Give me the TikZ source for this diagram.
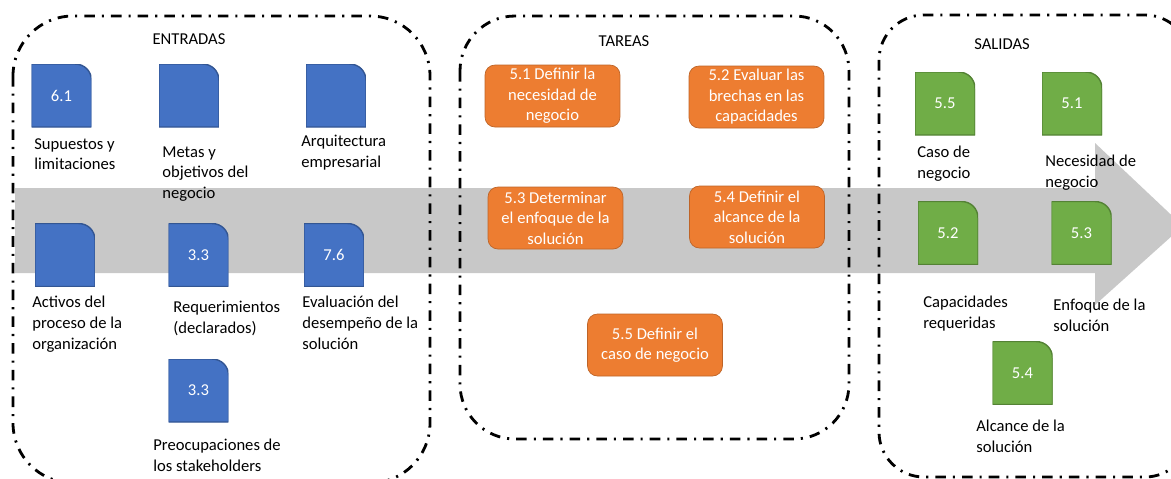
\documentclass[tikz,border=0pt]{standalone}
\usepackage{fontspec}
\setmainfont{Carlito}
\definecolor{docblue}{HTML}{4472C4}
\definecolor{docgreen}{HTML}{70AD47}
\definecolor{taskorange}{HTML}{ED7D31}
\definecolor{bandgray}{RGB}{200,200,200}

\tikzstyle{doc}=[minimum width=1.2cm,minimum height=1.26cm,inner sep=0,text=white,
  path picture={\filldraw[fill=#1,draw=#1!75!black,line width=0.8pt]
    (path picture bounding box.south west) |- ([xshift=-9.5pt]path picture bounding box.north east)
    .. controls ([xshift=-4pt]path picture bounding box.north east) and ([yshift=-4pt]path picture bounding box.north east) .. ([yshift=-9.5pt]path picture bounding box.north east)
    -- (path picture bounding box.south east) -- cycle;}]
\tikzstyle{task}=[rounded corners=0.2cm,fill=taskorange,draw=taskorange!80!black,text=white,
  minimum width=2.7cm,minimum height=1.24cm,align=center,inner sep=0]
\tikzstyle{captxt}=[anchor=north west,align=left,inner sep=0]
\tikzstyle{title}=[anchor=north,inner sep=0]
\tikzstyle{group}=[draw,line width=1.6pt,dash pattern=on 6pt off 4pt on 1.2pt off 4pt,rounded corners=#1]
\newcommand{\docitem}[4]{\node[doc=#3] (#1) at (#2) {#4};}
\newcommand{\doctext}[3]{\node[captxt] (#1) at (#2) {#3};}

\begin{document}
\begin{tikzpicture}[x=0.02cm,y=-0.02cm,font=\fontsize{9.45}{11.7}\selectfont]
    \useasboundingbox (0,0) rectangle (1171,478);
    % flow arrow behind everything
    \fill[bandgray] (15,188) -- (1095,188) -- (1095,143) -- (1183,226) -- (1095,305) -- (1095,273) -- (15,273) -- cycle;

    \draw[group=1.2cm] (13,16) rectangle (430,483);
    \draw[group=1.1cm] (460,16) rectangle (849,439);
    \draw[group=0.9cm] (879,15) rectangle (1190,477);

    \node[title] (entradas) at (189,33) {ENTRADAS};
    \node[title] (tareas) at (624,35) {TAREAS};
    \node[title] (salidas) at (1002,38) {SALIDAS};

    % entradas
    \docitem{e61}{61.5,95.5}{docblue}{6.1}
    \docitem{emetas}{189,95.5}{docblue}{}
    \docitem{earq}{336,95.5}{docblue}{}
    \docitem{eact}{65,255}{docblue}{}
    \docitem{ereq}{198.5,255}{docblue}{3.3}
    \docitem{eeval}{334,255}{docblue}{7.6}
    \docitem{epreo}{198.5,390.5}{docblue}{3.3}
    \doctext{le61}{34,138}{Supuestos y\\limitaciones}
    \doctext{lemetas}{162,146}{Metas y\\objetivos del\\negocio}
    \doctext{learq}{301,135}{Arquitectura\\empresarial}
    \doctext{leact}{32,296}{Activos del\\proceso de la\\organización}
    \doctext{lereq}{173,301}{Requerimientos\\(declarados)}
    \doctext{leeval}{302,296}{Evaluación del\\desempeño de la\\solución}
    \doctext{lepreo}{153,439}{Preocupaciones de\\los stakeholders}

    % tareas
    \node[task] (t51) at (552.5,96) {5.1 Definir la\\necesidad de\\negocio};
    \node[task] (t52) at (756.5,97) {5.2 Evaluar las\\brechas en las\\capacidades};
    \node[task] (t53) at (555.5,218) {5.3 Determinar\\el enfoque de la\\solución};
    \node[task] (t54) at (757,217) {5.4 Definir el\\alcance de la\\solución};
    \node[task] (t55) at (655,345) {5.5 Definir el\\caso de negocio};

    % salidas
    \docitem{s55}{945,103.5}{docgreen}{5.5}
    \docitem{s51}{1072,103.5}{docgreen}{5.1}
    \docitem{s52}{948,233}{docgreen}{5.2}
    \docitem{s53}{1081.5,233}{docgreen}{5.3}
    \docitem{s54}{1022.5,373}{docgreen}{5.4}
    \doctext{ls55}{917,146}{Caso de\\negocio}
    \doctext{ls51}{1045,155}{Necesidad de\\negocio}
    \doctext{ls52}{923,296}{Capacidades\\requeridas}
    \doctext{ls53}{1053,299}{Enfoque de la\\solución}
    \doctext{ls54}{976,420}{Alcance de la\\solución}
\end{tikzpicture}
\end{document}
